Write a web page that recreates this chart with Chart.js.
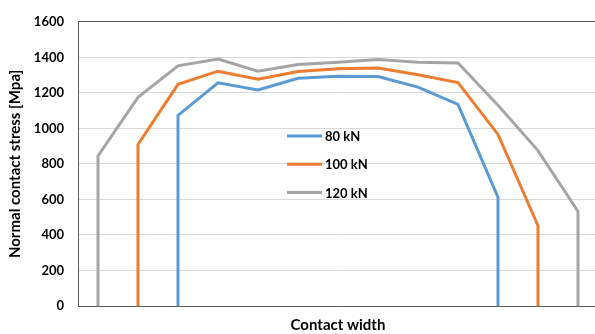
<!DOCTYPE html>
<html>
<head>
<meta charset="utf-8">
<script src="https://cdn.jsdelivr.net/npm/chart.js@4.4.1/dist/chart.umd.min.js"></script>
<style>
  html, body { margin: 0; padding: 0; background: #fff; overflow: hidden; }
  #wrap { width: 598px; height: 334px; }
</style>
</head>
<body>
<div id="wrap"><canvas id="chart" width="598" height="334"></canvas></div>
<script>
// positions along contact width (arbitrary steps) and stress values [MPa]
const labels = ["80 kN", "100 kN", "120 kN"];

const x80 = [2, 2, 3, 4, 5, 6, 7, 8, 9, 10, 10];
const y80 = [0, 1073, 1257, 1216, 1282, 1294, 1292, 1232, 1135, 612, 0];

const x100 = [1, 1, 2, 3, 4, 5, 6, 7, 8, 9, 10, 11, 11];
const y100 = [0, 910, 1248, 1322, 1277, 1320, 1335, 1340, 1302, 1258, 966, 452, 0];

const x120 = [0, 0, 1, 2, 3, 4, 5, 6, 7, 8, 9, 10, 11, 12, 12];
const y120 = [0, 845, 1175, 1352, 1390, 1322, 1360, 1372, 1388, 1372, 1368, 1130, 875, 533, 0];

const yTicks = [0, 200, 400, 600, 800, 1000, 1200, 1400, 1600];

const colors = ["#5B9BD5", "#ED7D31", "#A5A5A5"];
const FONT = "Lato, 'Open Sans', sans-serif";

function pts(xs, ys) {
  return xs.map((x, i) => ({ x: x, y: ys[i] }));
}

// legend drawn inside the plot, like the original
const insideLegend = {
  id: "insideLegend",
  afterDraw(chart) {
    const ctx = chart.ctx;
    ctx.save();
    ctx.font = "bold 13px " + FONT;
    ctx.textBaseline = "middle";
    chart.data.datasets.forEach((ds, i) => {
      const y = 136 + i * 28.3;
      ctx.strokeStyle = ds.borderColor;
      ctx.lineWidth = 3;
      ctx.beginPath();
      ctx.moveTo(287, y);
      ctx.lineTo(322, y);
      ctx.stroke();
      ctx.fillStyle = "#000";
      ctx.fillText(ds.label, 325, y + 1);
    });
    ctx.restore();
  }
};

const datasets = [
  { label: labels[0], data: pts(x80, y80), borderColor: colors[0] },
  { label: labels[1], data: pts(x100, y100), borderColor: colors[1] },
  { label: labels[2], data: pts(x120, y120), borderColor: colors[2] }
].map(d => Object.assign(d, {
  showLine: true,
  borderWidth: 3,
  pointRadius: 0,
  tension: 0,
  fill: false
}));

new Chart(document.getElementById("chart"), {
  type: "scatter",
  data: { datasets: datasets },
  options: {
    responsive: false,
    animation: false,
    layout: { padding: { top: 17, left: 0, right: 0, bottom: 0 } },
    plugins: { legend: { display: false }, tooltip: { enabled: false } },
    scales: {
      x: {
        type: "linear",
        min: -0.5,
        max: 12.5,
        ticks: { display: false },
        grid: { display: false, drawTicks: false },
        border: { display: true, color: "#595959", width: 1 },
        title: {
          display: true,
          text: "Contact width",
          color: "#000",
          font: { family: FONT, size: 15, weight: "bold" },
          padding: { top: 6, bottom: 0 }
        },
        afterFit(scale) { scale.height = 28; }
      },
      y: {
        min: 0,
        max: 1600,
        afterBuildTicks(scale) { scale.ticks = yTicks.map(v => ({ value: v })); },
        ticks: {
          color: "#000",
          padding: 14,
          font: { family: FONT, size: 13, weight: "bold" },
          callback: v => String(v)
        },
        grid: {
          drawTicks: false,
          color: ctx => ctx.tick && ctx.tick.value === 1600 ? "#595959" : "#d9d9d9",
          lineWidth: 1
        },
        border: { display: true, color: "#595959", width: 1 },
        title: {
          display: true,
          text: "Normal contact stress [Mpa]",
          color: "#000",
          font: { family: FONT, size: 15, weight: "bold" },
          padding: { top: 6, bottom: 0 }
        },
        afterFit(scale) { scale.width = 78; }
      }
    }
  },
  plugins: [insideLegend]
});
</script>
</body>
</html>
